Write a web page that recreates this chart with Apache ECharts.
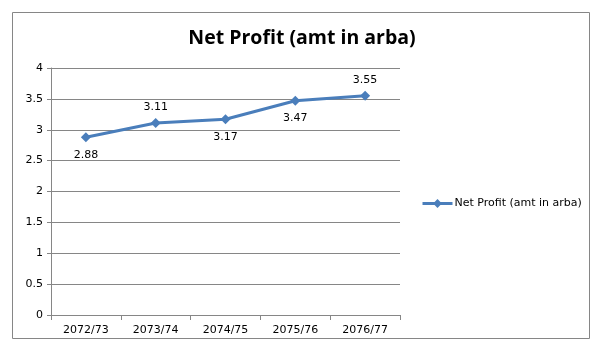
<!DOCTYPE html>
<html><head><meta charset="utf-8">
<script src="https://cdn.jsdelivr.net/npm/echarts@6/dist/echarts.min.js"></script>
<style>html,body{margin:0;padding:0;background:#fff}#c{width:604px;height:361px}</style>
</head><body><div id="c"></div>
<script>
const categories = ['2072/73','2073/74','2074/75','2075/76','2076/77'];
const netProfit = [2.88, 3.11, 3.17, 3.47, 3.55];
const labelPos = ['bottom','top','bottom','bottom','top'];
const yTicks = [0, 0.5, 1, 1.5, 2, 2.5, 3, 3.5, 4];

const chart = echarts.init(document.getElementById('c'));
const txt = {fontFamily: 'DejaVu Sans', fontSize: 11, color: '#000'};
chart.setOption({
  animation: false,
  graphic: [{type: 'rect', shape: {x: 12.5, y: 12.5, width: 577, height: 326}, style: {fill: 'none', stroke: '#868686', lineWidth: 1}}],
  title: {text: 'Net Profit (amt in arba)', left: 'center', top: 23,
    textStyle: {fontFamily: 'Open Sans', fontWeight: 'bold', fontSize: 19.5, color: '#000'}},
  legend: {left: 416, top: 193, itemWidth: 30, itemHeight: 11, itemGap: 0,
    lineStyle: {width: 3},
    textStyle: {fontFamily: 'DejaVu Sans', fontSize: 11, color: '#000', padding: [0,0,0,-3]},
    data: ['Net Profit (amt in arba)']},
  grid: {left: 51, right: 204, top: 68, bottom: 46},
  xAxis: {type: 'category', data: categories, boundaryGap: true,
    axisLine: {lineStyle: {color: '#868686'}},
    axisTick: {show: true, length: 5, lineStyle: {color: '#868686'}},
    axisLabel: Object.assign({margin: 10}, txt)},
  yAxis: {type: 'value', min: 0, max: 4, interval: 0.5,
    axisLine: {show: true, lineStyle: {color: '#868686'}},
    axisTick: {show: true, length: 4, lineStyle: {color: '#868686'}},
    splitLine: {lineStyle: {color: '#868686'}},
    axisLabel: Object.assign({margin: 8, formatter: v => yTicks.includes(v) ? String(v) : ''}, txt)},
  series: [{name: 'Net Profit (amt in arba)', type: 'line',
    data: netProfit.map((v, i) => ({value: v, label: {position: labelPos[i], distance: labelPos[i] === 'top' ? 5 : 7}})),
    symbol: 'diamond', symbolSize: 10,
    lineStyle: {color: '#4a7ebb', width: 3},
    itemStyle: {color: '#4a7ebb'},
    label: Object.assign({show: true}, txt)}]
});
</script></body></html>
